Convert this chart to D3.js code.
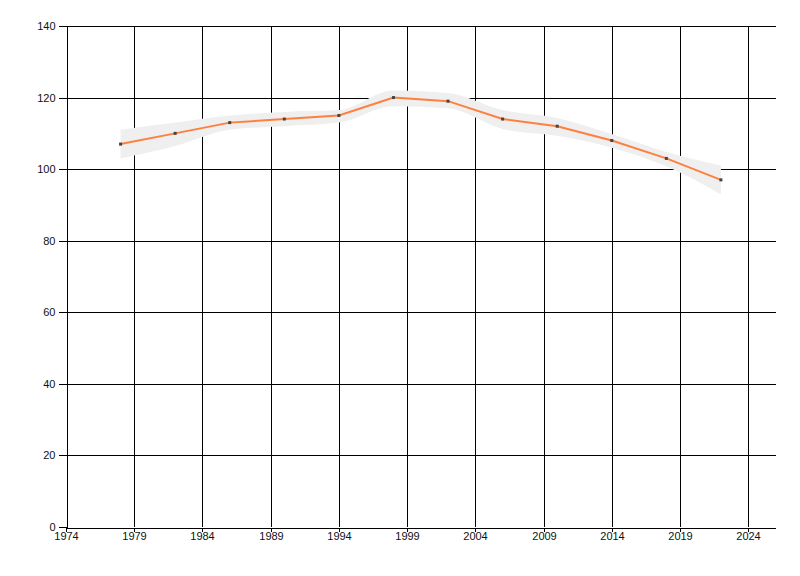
<!DOCTYPE html>
<html>
<head>
<meta charset="utf-8">
<script src="https://cdn.jsdelivr.net/npm/d3@7"></script>
<style>
  body { margin: 0; background: #fff; }
  svg { display: block; }
  .axis text { font-family: "Liberation Sans", Arial, sans-serif; font-size: 11px; fill: #111; }
  .axis path, .axis line { stroke: #000; shape-rendering: crispEdges; }
  .grid line { stroke: #000; shape-rendering: crispEdges; }
</style>
</head>
<body>
<div id="chart"></div>
<script>
const width = 800;
const height = 576;

// data
const years = [1978, 1982, 1986, 1990, 1994, 1998, 2002, 2006, 2010, 2014, 2018, 2022];
const values = [107, 110, 113, 114, 115, 120, 119, 114, 112, 108, 103, 97];
const upper = [111, 113, 115, 116, 116.5, 122, 121.3, 116.5, 114.3, 109.8, 104.8, 101];
const lower = [103, 106.5, 111, 112, 113, 117.6, 117, 111.2, 109.3, 106, 100.8, 93];
const xTicks = [1974, 1979, 1984, 1989, 1994, 1999, 2004, 2009, 2014, 2019, 2024];
const yTicks = [0, 20, 40, 60, 80, 100, 120, 140];

const svg = d3
  .select("#chart")
  .append("svg")
  .attr("width", width)
  .attr("height", height);

const x = d3.scaleLinear().domain([1974, 2026]).range([66, 775.5]);
const y = d3.scaleLinear().domain([0, 140]).range([527, 26]);

const px = (v) => Math.round(x(v)) + 0.5;
const py = (v) => Math.round(y(v)) + 0.5;

// grid
const grid = svg.append("g").attr("class", "grid");
grid
  .selectAll(".h")
  .data(yTicks.filter((d) => d > 0))
  .enter()
  .append("line")
  .attr("x1", x(1974))
  .attr("x2", x(2026))
  .attr("y1", (d) => py(d))
  .attr("y2", (d) => py(d));
grid
  .selectAll(".v")
  .data(xTicks.filter((d) => d > 1974))
  .enter()
  .append("line")
  .attr("x1", (d) => px(d))
  .attr("x2", (d) => px(d))
  .attr("y1", y(140))
  .attr("y2", y(0));

// confidence band
const band = years.map((d, i) => ({ year: d, hi: upper[i], lo: lower[i] }));
svg
  .append("path")
  .datum(band)
  .attr("fill", "#efefef")
  .attr(
    "d",
    d3
      .area()
      .curve(d3.curveMonotoneX)
      .x((d) => x(d.year))
      .y0((d) => y(d.lo))
      .y1((d) => y(d.hi))
  );

// line
const pts = years.map((d, i) => ({ year: d, value: values[i] }));
svg
  .append("path")
  .datum(pts)
  .attr("fill", "none")
  .attr("stroke", "#ff7f3f")
  .attr("stroke-width", 2)
  .attr(
    "d",
    d3
      .line()
      .x((d) => x(d.year))
      .y((d) => y(d.value))
  );

svg
  .selectAll(".marker")
  .data(pts)
  .enter()
  .append("rect")
  .attr("class", "marker")
  .attr("x", (d) => x(d.year) - 1.5)
  .attr("y", (d) => y(d.value) - 1.5)
  .attr("width", 3)
  .attr("height", 3)
  .attr("fill", "#444");

// axes
const yAxis = svg
  .append("g")
  .attr("class", "axis")
  .attr("transform", "translate(" + (Math.round(x(1974)) + 0.5) + ",0)")
  .call(d3.axisLeft(y).tickValues(yTicks).tickSize(8).tickSizeOuter(0).tickPadding(3));
yAxis.selectAll(".tick").attr("transform", (d) => "translate(0," + py(d) + ")");

const xAxis = svg
  .append("g")
  .attr("class", "axis")
  .attr("transform", "translate(0," + (Math.round(y(0)) + 0.5) + ")")
  .call(
    d3.axisBottom(x).tickValues(xTicks).tickFormat(d3.format("d")).tickSize(4).tickSizeOuter(0).tickPadding(1)
  );
xAxis.selectAll(".tick").attr("transform", (d) => "translate(" + px(d) + ",0)");
</script>
</body>
</html>
